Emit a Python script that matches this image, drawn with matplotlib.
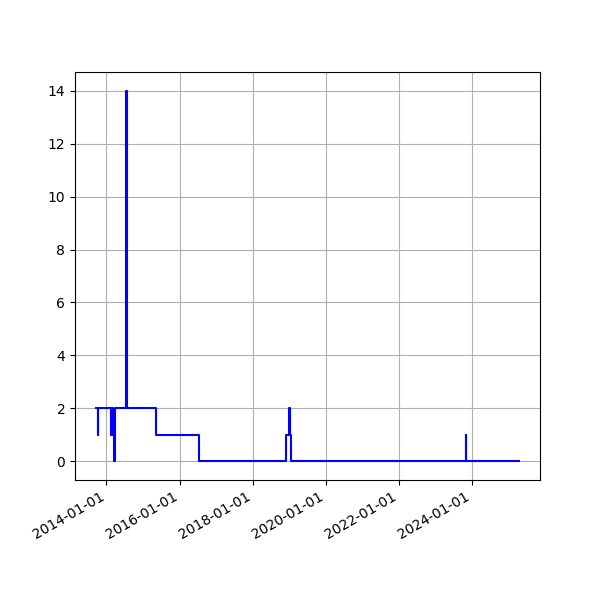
import matplotlib
matplotlib.use("Agg")
import matplotlib.pyplot as plt
import matplotlib.dates as mdates
import pandas as pd

dates = ["2013-09-20", "2013-10-06", "2013-10-12", "2014-02-20", "2014-02-27",
         "2014-03-06", "2014-03-20", "2014-03-27", "2014-07-18", "2014-07-24",
         "2015-05-08", "2016-07-10", "2018-12-02", "2018-12-28", "2019-01-05",
         "2019-01-22", "2023-10-28", "2023-11-03", "2025-04-12"]
values = [2, 1, 2, 1, 2, 1, 0, 2, 14, 2, 1, 0, 1, 2, 1, 0, 1, 0, 0]

x = pd.to_datetime(dates)

fig, ax = plt.subplots(figsize=(6, 6), dpi=100)
ax.plot(x, values, color="blue", drawstyle="steps-post")
ax.grid(True)
ax.xaxis.set_major_locator(mdates.YearLocator(2))
ax.xaxis.set_major_formatter(mdates.DateFormatter("%Y-%m-%d"))
fig.autofmt_xdate()
fig.savefig("out.png")
